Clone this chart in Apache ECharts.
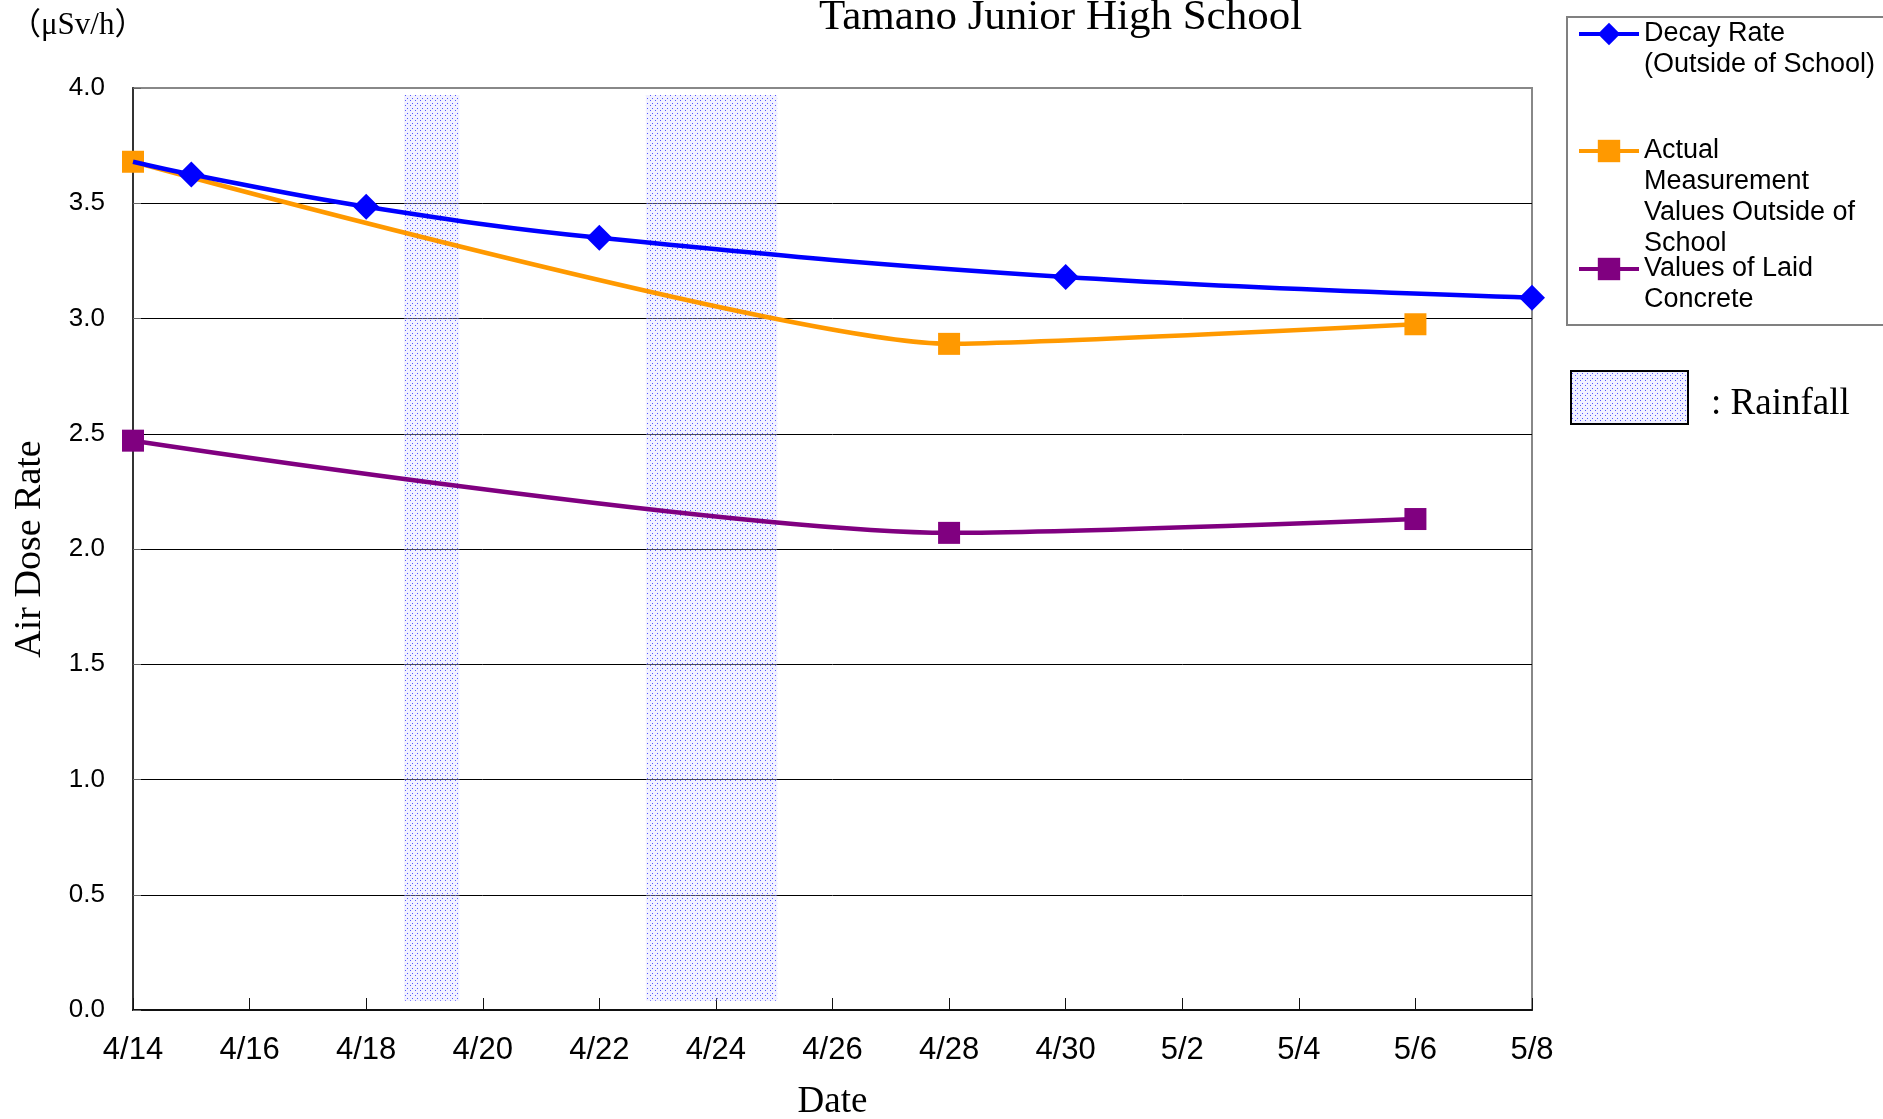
<!DOCTYPE html>
<html>
<head>
<meta charset="utf-8">
<script src="https://cdn.jsdelivr.net/npm/echarts@6/dist/echarts.min.js"></script>
<style>
html,body{margin:0;padding:0;background:#fff;}
#chart{width:1883px;height:1119px;}
</style>
</head>
<body>
<div id="chart"></div>
<script>
// ---- data ----
var startDate = '4/14';
var xTickLabels = ['4/14','4/16','4/18','4/20','4/22','4/24','4/26','4/28','4/30','5/2','5/4','5/6','5/8'];
var yTickLabels = ['0.0','0.5','1.0','1.5','2.0','2.5','3.0','3.5','4.0'];

var decayDates = ['4/14','4/15','4/18','4/22','4/30','5/8'];
var decayValues = [3.68, 3.625, 3.485, 3.35, 3.18, 3.09];

var actualDates = ['4/14','4/28','5/6'];
var actualValues = [3.68, 2.89, 2.975];

var concreteDates = ['4/14','4/28','5/6'];
var concreteValues = [2.47, 2.07, 2.13];

// rainfall periods (day offset from 4/14)
var rainStart = [4.65, 8.8];
var rainEnd = [5.6, 11.05];
var rainBottom = 0.04;
var rainTop = 3.97;

var seriesNames = ['Decay Rate\n(Outside of School)', 'Actual\nMeasurement\nValues Outside of\nSchool', 'Values of Laid\nConcrete'];

// ---- helpers ----
function dayOffset(s) {
  var p = s.split('/');
  var d = new Date(2011, parseInt(p[0], 10) - 1, parseInt(p[1], 10));
  var q = startDate.split('/');
  var d0 = new Date(2011, parseInt(q[0], 10) - 1, parseInt(q[1], 10));
  return Math.round((d - d0) / 86400000);
}
function pairs(dates, vals) {
  return dates.map(function (d, i) { return [dayOffset(d), vals[i]]; });
}
// decay points sharing the start point with the measured series are hidden under its marker
var decayData = pairs(decayDates, decayValues).map(function (p, i) {
  return decayDates[i] === actualDates[0] ? { value: p, symbol: 'none' } : p;
});

var pc = document.createElement('canvas');
pc.width = 5; pc.height = 5;
var ctx = pc.getContext('2d');
ctx.fillStyle = 'rgba(215,215,255,0.35)';
ctx.fillRect(0, 0, 5, 5);
ctx.fillStyle = 'rgba(70,70,255,0.9)';
ctx.fillRect(0, 0, 1, 1);
ctx.fillRect(2, 3, 1, 1);
var rainPattern = { image: pc, repeat: 'repeat' };

var rainAreas = rainStart.map(function (s, i) {
  return [{ xAxis: s, yAxis: rainBottom }, { xAxis: rainEnd[i], yAxis: rainTop }];
});

var LH = 31;
function legendAt(name, centerY, lines) {
  var pre = '';
  for (var k = 0; k < lines - 1; k++) pre += '\n';
  return {
    data: [name],
    orient: 'vertical',
    left: 1577,
    top: centerY - (2 * lines - 1) * LH / 2,
    padding: 0,
    itemWidth: 60,
    itemHeight: 28,
    itemGap: 0,
    selectedMode: false,
    lineStyle: { width: 4 },
    formatter: function (n) { return pre + n; },
    textStyle: {
      fontFamily: 'Liberation Sans, Arial, sans-serif',
      fontSize: 27,
      color: '#000',
      lineHeight: LH
    }
  };
}

var chart = echarts.init(document.getElementById('chart'), null, { renderer: 'canvas' });

var splitColors = yTickLabels.map(function (l, i) { return i === yTickLabels.length - 1 ? '#888' : '#000'; });

var option = {
  backgroundColor: '#fff',
  animation: false,
  title: [
    {
      text: 'Tamano Junior High School',
      left: 819, top: -4, padding: 0,
      textStyle: { fontFamily: 'Liberation Serif, Times New Roman, serif', fontSize: 43, fontWeight: 'normal', color: '#000' }
    },
    {
      text: '（μSv/h）',
      left: 10, top: 10, padding: 0,
      textStyle: { fontFamily: 'Liberation Serif, Noto Sans CJK JP, serif', fontSize: 31, fontWeight: 'normal', color: '#000' }
    }
  ],
  legend: [
    legendAt(seriesNames[0], 34, 2),
    legendAt(seriesNames[1], 151, 4),
    legendAt(seriesNames[2], 269, 2)
  ],
  grid: {
    left: 133, right: 351, top: 88, bottom: 109,
    outerBoundsMode: 'none',
    show: true, borderColor: '#888', borderWidth: 2, backgroundColor: 'transparent'
  },
  xAxis: {
    type: 'value', min: 0, max: 24, interval: 2,
    name: 'Date', nameLocation: 'middle', nameGap: 74,
    nameTextStyle: { fontFamily: 'Liberation Serif, Times New Roman, serif', fontSize: 37, color: '#000' },
    axisLine: { show: true, lineStyle: { color: '#111', width: 2 } },
    axisTick: { show: true, inside: true, length: 12, lineStyle: { color: '#111', width: 1 } },
    splitLine: { show: false },
    axisLabel: {
      margin: 25,
      fontFamily: 'Liberation Sans Narrow, Liberation Sans, Arial, sans-serif',
      fontSize: 31, color: '#000',
      formatter: function (v) { return xTickLabels[Math.round(v / 2)]; }
    }
  },
  yAxis: {
    type: 'value', min: 0, max: 4, interval: 0.5,
    name: 'Air Dose Rate', nameLocation: 'middle', nameRotate: 90, nameGap: 84,
    nameTextStyle: { fontFamily: 'Liberation Serif, Times New Roman, serif', fontSize: 38, color: '#000' },
    axisLine: { show: true, lineStyle: { color: '#333', width: 2 } },
    axisTick: { show: true, inside: true, length: 8, lineStyle: { color: '#666' } },
    splitLine: { show: true, lineStyle: { color: splitColors, width: 1 } },
    axisLabel: {
      margin: 28,
      fontFamily: 'Liberation Sans, Arial, sans-serif',
      fontSize: 26, color: '#000',
      formatter: function (v) { return yTickLabels[Math.round(v * 2)]; }
    }
  },
  series: [
    {
      name: seriesNames[0], type: 'line', smooth: 0.4, clip: false,
      data: decayData,
      symbol: 'diamond', symbolSize: 26,
      lineStyle: { color: '#0000ff', width: 4.5 },
      itemStyle: { color: '#0000ff' }, z: 4
    },
    {
      name: seriesNames[1], type: 'line', smooth: 0.18, clip: false,
      data: pairs(actualDates, actualValues),
      symbol: 'rect', symbolSize: 22,
      lineStyle: { color: '#ff9900', width: 4.5 },
      itemStyle: { color: '#ff9900' }, z: 3
    },
    {
      name: seriesNames[2], type: 'line', smooth: 0.25, clip: false,
      data: pairs(concreteDates, concreteValues),
      symbol: 'rect', symbolSize: 22,
      lineStyle: { color: '#800080', width: 4.5 },
      itemStyle: { color: '#800080' }, z: 3
    },
    {
      name: 'Rainfall', type: 'line', data: [], z: 10,
      markArea: { silent: true, itemStyle: { color: rainPattern, borderWidth: 0 }, data: rainAreas }
    }
  ],
  graphic: [
    {
      type: 'rect', z: 1, silent: true,
      shape: { x: 1567, y: 17, width: 330, height: 308 },
      style: { fill: 'transparent', stroke: '#808080', lineWidth: 2 }
    },
    {
      type: 'rect', silent: true,
      shape: { x: 1571, y: 371, width: 117, height: 53 },
      style: { fill: rainPattern, stroke: '#000', lineWidth: 2 }
    },
    {
      type: 'text', silent: true, x: 1711, y: 404,
      style: { text: ': Rainfall', fontFamily: 'Liberation Serif, Times New Roman, serif', fontSize: 37, fill: '#000', verticalAlign: 'middle' }
    }
  ]
};
chart.setOption(option);
</script>
</body>
</html>
